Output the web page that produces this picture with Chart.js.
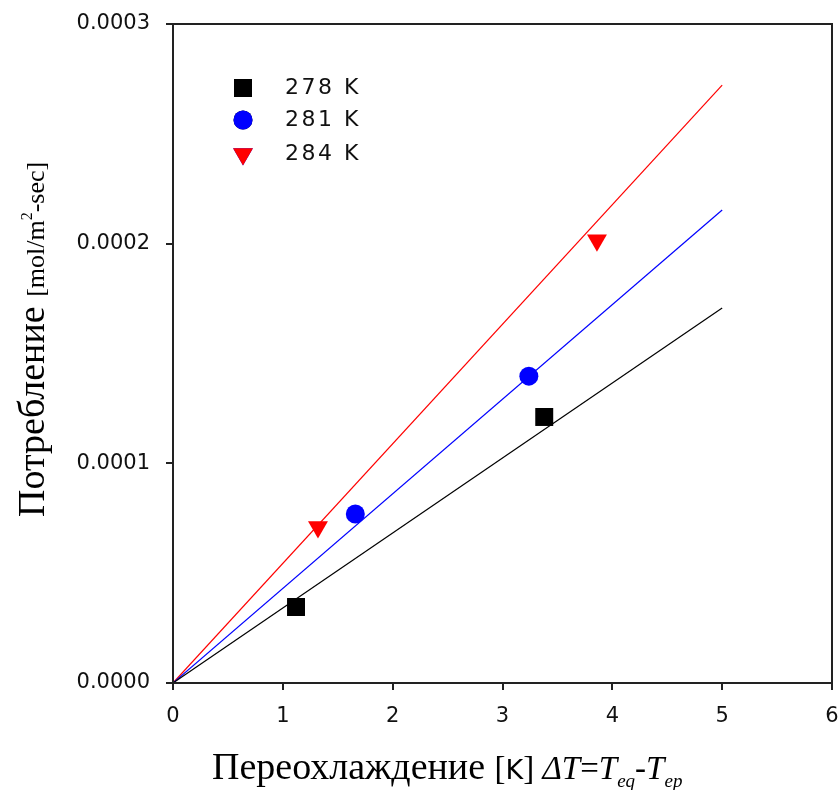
<!DOCTYPE html>
<html>
<head>
<meta charset="utf-8">
<script src="https://cdn.jsdelivr.net/npm/chart.js@4/dist/chart.umd.min.js"></script>
<style>
html,body{margin:0;padding:0;background:#fff;}
#wrap{width:839px;height:790px;position:relative;}
</style>
</head>
<body>
<div id="wrap"><canvas id="c" width="839" height="790"></canvas></div>
<script>
// ---- data ----
const seriesNames = ['278 K', '281 K', '284 K'];
const seriesColors = ['#000000', '#0000ff', '#ff0000'];
const x278 = [1.12, 3.38];
const y278 = [0.346e-4, 1.211e-4];
const x281 = [1.66, 3.24];
const y281 = [0.769e-4, 1.397e-4];
const x284 = [1.32, 3.86];
const y284 = [0.710e-4, 2.016e-4];
const fitX = [0, 5];
const fit278 = [0, 1.707e-4];
const fit281 = [0, 2.153e-4];
const fit284 = [0, 2.722e-4];
const xTickValues = [0, 1, 2, 3, 4, 5, 6];
const yTickLabels = ['0.0000', '0.0001', '0.0002', '0.0003'];

function pts(xs, ys) { return xs.map((x, i) => ({x: x, y: ys[i]})); }

const markerStyles = ['rect', 'circle', 'triangle'];
const markerRadius = [12.7, 9.5, 11.5];
const markerRot = [0, 0, 180];

const datasets = [];
[[fit278], [fit281], [fit284]].forEach((f, i) => {
  datasets.push({
    type: 'line', label: 'fit ' + seriesNames[i], data: pts(fitX, f[0]),
    borderColor: seriesColors[i], borderWidth: 1.2, pointRadius: 0, fill: false, tension: 0
  });
});
[[x278, y278], [x281, y281], [x284, y284]].forEach((s, i) => {
  datasets.push({
    type: 'scatter', label: seriesNames[i], data: pts(s[0], s[1]),
    backgroundColor: seriesColors[i], borderColor: seriesColors[i], borderWidth: 0,
    pointStyle: markerStyles[i], pointRadius: markerRadius[i], pointRotation: markerRot[i]
  });
});

const SERIF = '"Liberation Serif", "DejaVu Serif", serif';
const SANS = '"DejaVu Sans", sans-serif';

function drawRuns(ctx, runs, x, y) {
  let cx = x;
  runs.forEach(r => {
    ctx.font = r.font;
    ctx.fillText(r.t, cx, y + (r.dy || 0));
    cx += ctx.measureText(r.t).width;
  });
}

const decor = {
  id: 'decor',
  afterDatasetsDraw(chart) {
    const ctx = chart.ctx;
    const a = chart.chartArea;
    ctx.save();
    // frame
    ctx.strokeStyle = '#222';
    ctx.lineWidth = 2;
    ctx.strokeRect(a.left, a.top, a.right - a.left, a.bottom - a.top);
    // legend
    const lx = 243, tx = 285, rows = [88, 120, 154];
    seriesNames.forEach((n, i) => {
      Chart.helpers.drawPoint(ctx, {
        pointStyle: markerStyles[i], radius: markerRadius[i], rotation: markerRot[i], borderWidth: 0
      }, lx, rows[i]);
      ctx.fillStyle = seriesColors[i];
      ctx.fill();
    });
    ctx.fillStyle = '#111';
    ctx.textBaseline = 'middle';
    ctx.textAlign = 'left';
    ctx.font = '22px ' + SANS;
    try { ctx.letterSpacing = '2.5px'; } catch (e) {}
    seriesNames.forEach((n, i) => ctx.fillText(n, tx, rows[i]));
    try { ctx.letterSpacing = '0px'; } catch (e) {}
    ctx.restore();

    // x title
    ctx.save();
    ctx.fillStyle = '#000';
    ctx.textBaseline = 'alphabetic';
    ctx.textAlign = 'left';
    drawRuns(ctx, [
      {t: 'Переохлаждение ', font: '38px ' + SERIF},
      {t: '[', font: '33px ' + SERIF},
      {t: 'K', font: '27px ' + SANS},
      {t: '] ', font: '33px ' + SERIF},
      {t: 'ΔT', font: 'italic 33px ' + SERIF},
      {t: '=', font: '33px ' + SERIF},
      {t: 'T', font: 'italic 33px ' + SERIF},
      {t: 'eq', font: 'italic 19px ' + SERIF, dy: 8},
      {t: '-', font: '33px ' + SERIF},
      {t: 'T', font: 'italic 33px ' + SERIF},
      {t: 'ep', font: 'italic 19px ' + SERIF, dy: 8}
    ], 212, 779);
    ctx.restore();

    // y title
    ctx.save();
    ctx.translate(44, 517);
    ctx.rotate(-Math.PI / 2);
    ctx.fillStyle = '#000';
    ctx.textBaseline = 'alphabetic';
    ctx.textAlign = 'left';
    drawRuns(ctx, [
      {t: 'Потребление ', font: '38px ' + SERIF},
      {t: '[mol/m', font: '26px ' + SERIF},
      {t: '2', font: '16px ' + SERIF, dy: -12},
      {t: '-sec]', font: '26px ' + SERIF}
    ], 0, 0);
    ctx.restore();
  }
};

const zeroPad = () => ({left: 0, top: 0, right: 0, bottom: 0});

new Chart(document.getElementById('c'), {
  type: 'scatter',
  data: {datasets: datasets},
  plugins: [decor],
  options: {
    responsive: false,
    animation: false,
    devicePixelRatio: 1,
    layout: {autoPadding: false, padding: {left: 0, top: 24, right: 7, bottom: 0}},
    plugins: {legend: {display: false}, tooltip: {enabled: false}},
    scales: {
      x: {
        type: 'linear', min: 0, max: 6,
        afterFit(s) { s.height = 107; s.paddingRight = 0; s.paddingLeft = 0; s.getPadding = zeroPad; },
        afterBuildTicks(s) { s.ticks = xTickValues.map(v => ({value: v})); },
        border: {display: false},
        grid: {drawOnChartArea: false, drawTicks: true, tickLength: 7, lineWidth: 2, color: '#222'},
        ticks: {color: '#111', font: {family: SANS, size: 21}, padding: 14,
                callback: v => String(v), maxRotation: 0}
      },
      y: {
        type: 'linear', min: 0, max: 0.0003,
        afterFit(s) { s.width = 173; s.paddingTop = 0; s.paddingBottom = 0; s.getPadding = zeroPad; },
        afterBuildTicks(s) { s.ticks = yTickLabels.map(v => ({value: parseFloat(v)})); },
        border: {display: false},
        grid: {drawOnChartArea: false, drawTicks: true, tickLength: 7, lineWidth: 2, color: '#222'},
        ticks: {color: '#111', font: {family: SANS, size: 21}, padding: 16,
                callback: (v) => { const i = yTickLabels.findIndex(l => Math.abs(parseFloat(l) - v) < 1e-9); return i >= 0 ? yTickLabels[i] : ''; }}
      }
    }
  }
});
</script>
</body>
</html>
